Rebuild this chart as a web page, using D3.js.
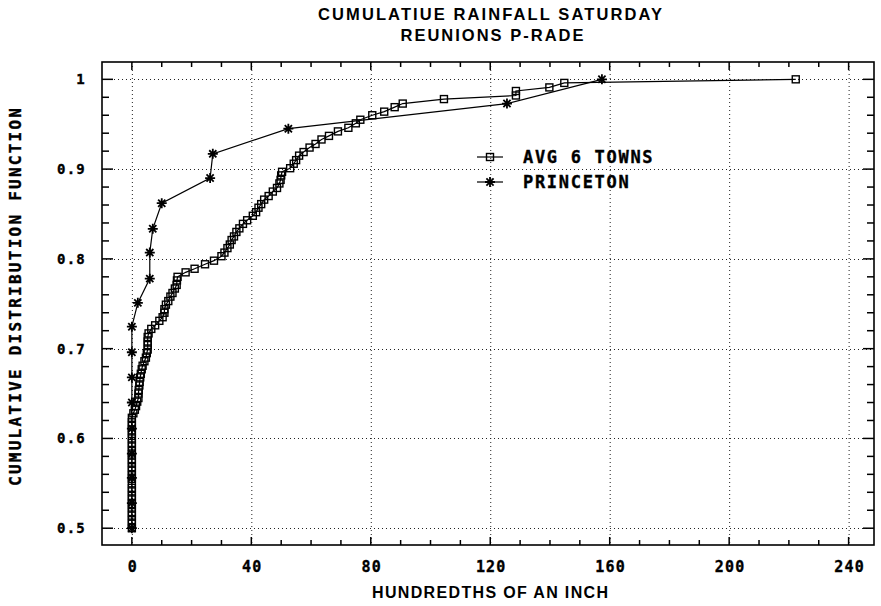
<!DOCTYPE html>
<html>
<head>
<meta charset="utf-8">
<script src="https://cdn.jsdelivr.net/npm/d3@7"></script>
<style>
  body { margin: 0; background: #fff; }
  svg { display: block; }
  .mono { font-family: "DejaVu Sans Mono", monospace; font-weight: bold; stroke: #000; stroke-width: 0.35px; }
  .narrow { font-family: "Liberation Sans", Arial, sans-serif; font-weight: bold; }
</style>
</head>
<body>
<svg></svg>
<script>
// chart data
let xTicks = [0, 40, 80, 120, 160, 200, 240]
let yTicks = [0.5, 0.6, 0.7, 0.8, 0.9, 1]
let yTickLabels = ["0.5", "0.6", "0.7", "0.8", "0.9", "1"]
let seriesNames = ["AVG 6 TOWNS", "PRINCETON"]

// AVG 6 TOWNS : hundredths of an inch, cumulative probability
let avgX = [
  0, 0, 0, 0, 0, 0, 0, 0, 0, 0, 0, 0, 0, 0, 0, 0, 0, 0, 0, 0, 0, 0, 0, 0, 0, 0, 0, 0,
  0.5, 1.0, 1.4, 1.8, 2.2, 2.2, 2.3, 2.5, 2.6, 2.8, 3.0, 3.3, 3.6, 4.2, 4.7, 5.0, 5.3, 5.3, 5.3, 5.3,
  5.6, 6.5, 7.8, 9.2, 10.3, 10.9, 10.9, 11.4, 12.2, 12.9, 13.6, 14.4, 15.0, 15.1, 15.3, 18.0,
  21.0, 24.5, 27.5, 30.0, 31.0, 32.0, 32.8, 33.4, 34.2, 35.0, 36.0, 37.2, 38.6, 40.5, 41.6, 42.4,
  43.3, 44.3, 45.8, 47.2, 48.6, 49.4, 49.8, 50.0, 50.3, 53.0, 54.2, 55.0, 56.0, 57.5, 59.5, 61.5,
  63.5, 66.0, 69.0, 72.5, 75.0, 76.5, 80.5, 84.5, 88.0, 90.7, 104.5, 128.6, 128.6, 139.8, 144.8, 222.3
]
let avgY = [
  0.500, 0.505, 0.509, 0.514, 0.518, 0.523, 0.527, 0.532, 0.536, 0.541, 0.545, 0.550, 0.555, 0.559,
  0.564, 0.568, 0.573, 0.577, 0.582, 0.586, 0.591, 0.595, 0.600, 0.605, 0.609, 0.614, 0.618, 0.623,
  0.628, 0.632, 0.636, 0.641, 0.645, 0.650, 0.654, 0.659, 0.663, 0.668, 0.672, 0.677, 0.681, 0.686,
  0.690, 0.695, 0.699, 0.704, 0.708, 0.713, 0.717, 0.722, 0.726, 0.731, 0.735, 0.740, 0.744, 0.749,
  0.753, 0.758, 0.762, 0.767, 0.771, 0.776, 0.780, 0.785, 0.789, 0.794, 0.798, 0.803, 0.807, 0.812,
  0.816, 0.821, 0.825, 0.830, 0.834, 0.839, 0.843, 0.848, 0.852, 0.857, 0.861, 0.866, 0.870, 0.875,
  0.879, 0.884, 0.888, 0.893, 0.897, 0.901, 0.906, 0.910, 0.915, 0.919, 0.924, 0.928, 0.933, 0.937,
  0.942, 0.946, 0.951, 0.955, 0.960, 0.964, 0.969, 0.973, 0.978, 0.982, 0.987, 0.991, 0.996, 1.000
]

// PRINCETON
let prinX = [0, 0, 0, 0, 0, 0, 0, 0, 0, 2, 6, 6, 7, 10, 26.2, 27.1, 52.4, 125.6, 157.4]
let prinY = [0.500, 0.528, 0.556, 0.583, 0.611, 0.640, 0.668, 0.696, 0.7245, 0.751, 0.778, 0.807,
  0.8335, 0.862, 0.890, 0.917, 0.945, 0.973, 1.000]

let width = 881
let height = 606
let pLeft = 102, pRight = 874, pTop = 62, pBottom = 545

let svg = d3.select("svg").attr("width", width).attr("height", height)

let xScale = d3.scaleLinear().domain([-10, 248.5]).range([pLeft, pRight])
let yScale = d3.scaleLinear().domain([0.4813, 1.0193]).range([pBottom, pTop])

// dotted grid
let grid = svg.append("g").attr("stroke", "#222").attr("stroke-width", 1).attr("stroke-dasharray", "1,3")
grid.selectAll(".gx").data(xTicks).enter().append("line")
  .attr("x1", d => xScale(d) + 0.5).attr("x2", d => xScale(d) + 0.5)
  .attr("y1", pTop).attr("y2", pBottom)
grid.selectAll(".gy").data(yTicks).enter().append("line")
  .attr("y1", d => Math.round(yScale(d)) + 0.5).attr("y2", d => Math.round(yScale(d)) + 0.5)
  .attr("x1", pLeft).attr("x2", pRight)

// ticks pointing into the plot on all four sides
let xMinor = d3.range(0, 250, 10)
let yMinor = d3.range(0.5, 1.02, 0.02)
let ticks = svg.append("g").attr("stroke", "#000").attr("stroke-width", 1.5)
ticks.selectAll(".xb").data(xMinor).enter().append("line")
  .attr("x1", d => xScale(d)).attr("x2", d => xScale(d))
  .attr("y1", pBottom).attr("y2", d => pBottom - (d % 40 == 0 ? 8 : 5))
ticks.selectAll(".xt").data(xMinor).enter().append("line")
  .attr("x1", d => xScale(d)).attr("x2", d => xScale(d))
  .attr("y1", pTop).attr("y2", d => pTop + (d % 40 == 0 ? 8 : 5))
ticks.selectAll(".yl").data(yMinor).enter().append("line")
  .attr("y1", d => yScale(d)).attr("y2", d => yScale(d))
  .attr("x1", pLeft).attr("x2", (d, i) => pLeft + (i % 5 == 0 ? 11 : 7))
ticks.selectAll(".yr").data(yMinor).enter().append("line")
  .attr("y1", d => yScale(d)).attr("y2", d => yScale(d))
  .attr("x1", pRight).attr("x2", (d, i) => pRight - (i % 5 == 0 ? 11 : 7))

// frame
svg.append("rect").attr("x", pLeft).attr("y", pTop)
  .attr("width", pRight - pLeft).attr("height", pBottom - pTop)
  .attr("fill", "none").attr("stroke", "#000").attr("stroke-width", 1.6)

// tick labels
svg.selectAll(".xl").data(xTicks).enter().append("text")
  .attr("class", "mono").attr("x", d => xScale(d) + 1).attr("y", 572)
  .attr("text-anchor", "middle").attr("font-size", 15).attr("letter-spacing", 1.2)
  .text(d => d)
svg.selectAll(".yla").data(yTicks).enter().append("text")
  .attr("class", "mono").attr("x", 86).attr("y", d => yScale(d) + 5)
  .attr("text-anchor", "end").attr("font-size", 14).attr("letter-spacing", 1.2)
  .text((d, i) => yTickLabels[i])

// titles
svg.append("text").attr("class", "narrow").attr("x", 490).attr("y", 20)
  .attr("text-anchor", "middle").attr("font-size", 16.5)
  .attr("textLength", 344).attr("lengthAdjust", "spacing")
  .text("CUMULATIUE  RAINFALL  SATURDAY")
svg.append("text").attr("class", "narrow").attr("x", 492).attr("y", 41)
  .attr("text-anchor", "middle").attr("font-size", 16.5)
  .attr("textLength", 183).attr("lengthAdjust", "spacing")
  .text("REUNIONS  P-RADE")
svg.append("text").attr("class", "narrow").attr("x", 490).attr("y", 598)
  .attr("text-anchor", "middle").attr("font-size", 16)
  .attr("textLength", 236).attr("lengthAdjust", "spacing")
  .text("HUNDREDTHS  OF  AN  INCH")
svg.append("text").attr("class", "mono")
  .attr("transform", "translate(21," + 297 + ") rotate(-90)")
  .attr("text-anchor", "middle").attr("font-size", 16)
  .attr("textLength", 378).attr("lengthAdjust", "spacing")
  .text("CUMULATIVE DISTRIBUTION FUNCTION")

// marker helpers
let square = (g, x, y) => g.append("rect")
  .attr("x", x - 3.5).attr("y", y - 3.5).attr("width", 7).attr("height", 7)
  .attr("fill", "none").attr("stroke", "#000").attr("stroke-width", 1.4)
let star = (g, x, y) => {
  let r = 5, q = 3.6
  g.append("path")
    .attr("d", "M" + (x - r) + "," + y + "H" + (x + r) + "M" + x + "," + (y - r) + "V" + (y + r) +
      "M" + (x - q) + "," + (y - q) + "L" + (x + q) + "," + (y + q) +
      "M" + (x - q) + "," + (y + q) + "L" + (x + q) + "," + (y - q))
    .attr("stroke", "#000").attr("stroke-width", 1.8)
}

let line = d3.line().x(d => xScale(d[0])).y(d => yScale(d[1]))
let avg = avgX.map((x, i) => [x, avgY[i]])
let prin = prinX.map((x, i) => [x, prinY[i]])

let plot = svg.append("g")
plot.append("path").datum(avg).attr("d", line)
  .attr("fill", "none").attr("stroke", "#000").attr("stroke-width", 1.2)
plot.append("path").datum(prin).attr("d", line)
  .attr("fill", "none").attr("stroke", "#000").attr("stroke-width", 1.2)
avg.forEach(d => square(plot, xScale(d[0]), yScale(d[1])))
prin.forEach(d => star(plot, xScale(d[0]), yScale(d[1])))

// legend
let legend = svg.append("g")
let lx = 477, ly = [157, 182]
legend.selectAll("line").data(ly).enter().append("line")
  .attr("x1", lx).attr("x2", lx + 26).attr("y1", d => d).attr("y2", d => d)
  .attr("stroke", "#000").attr("stroke-width", 1.2)
square(legend, lx + 13, ly[0])
star(legend, lx + 13, ly[1])
legend.selectAll("text").data(seriesNames).enter().append("text")
  .attr("class", "mono").attr("x", 523).attr("y", (d, i) => ly[i] + 6)
  .attr("font-size", 17).attr("letter-spacing", 1.7)
  .text(d => d)
</script>
</body>
</html>
